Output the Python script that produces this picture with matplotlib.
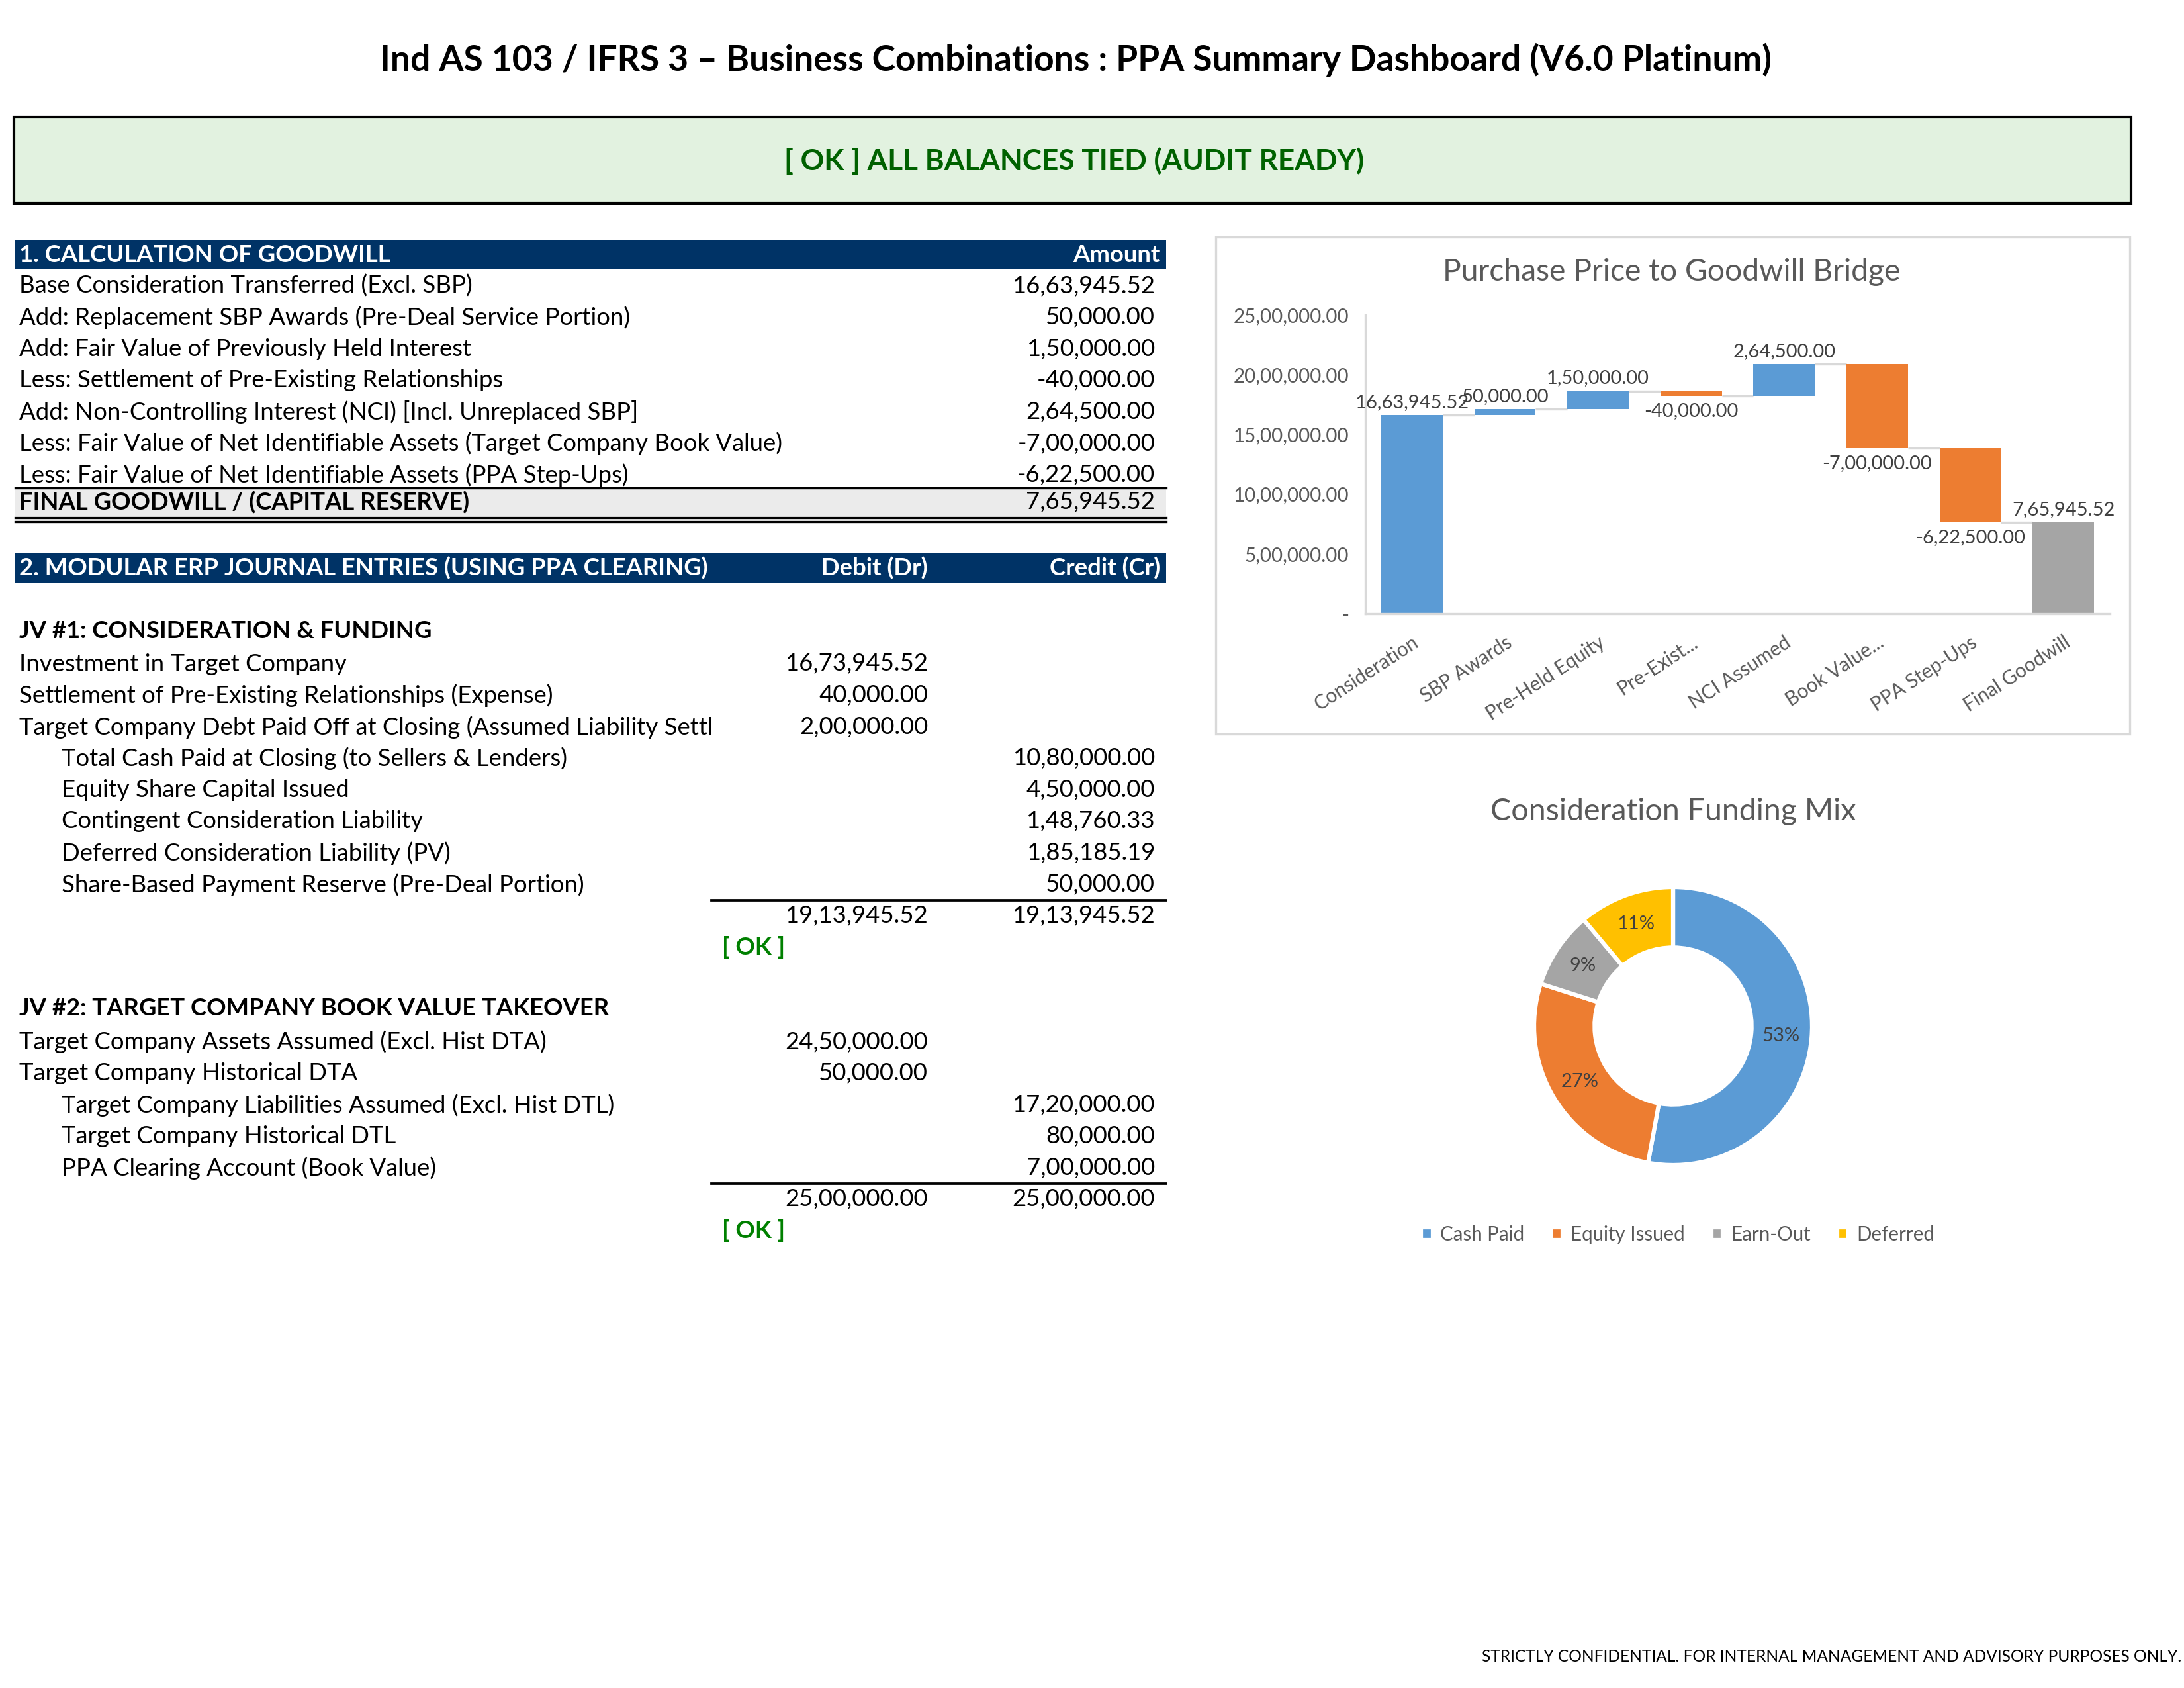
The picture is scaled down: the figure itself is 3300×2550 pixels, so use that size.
import matplotlib
matplotlib.use("Agg")
import matplotlib.pyplot as plt
from matplotlib.patches import Rectangle
import numpy as np

plt.rcParams['font.family'] = ['Lato', 'DejaVu Sans']

# ---- data ----
goodwill_labels = [
    "Base Consideration Transferred (Excl. SBP)",
    "Add: Replacement SBP Awards (Pre-Deal Service Portion)",
    "Add: Fair Value of Previously Held Interest",
    "Less: Settlement of Pre-Existing Relationships",
    "Add: Non-Controlling Interest (NCI) [Incl. Unreplaced SBP]",
    "Less: Fair Value of Net Identifiable Assets (Target Company Book Value)",
    "Less: Fair Value of Net Identifiable Assets (PPA Step-Ups)",
]
goodwill_values = [1663945.52, 50000.00, 150000.00, -40000.00, 264500.00, -700000.00, -622500.00]
final_goodwill = 765945.52

jv1_labels = [
    "Investment in Target Company",
    "Settlement of Pre-Existing Relationships (Expense)",
    "Target Company Debt Paid Off at Closing (Assumed Liability Settl",
    "Total Cash Paid at Closing (to Sellers & Lenders)",
    "Equity Share Capital Issued",
    "Contingent Consideration Liability",
    "Deferred Consideration Liability (PV)",
    "Share-Based Payment Reserve (Pre-Deal Portion)",
]
jv1_debit = [1673945.52, 40000.00, 200000.00, None, None, None, None, None]
jv1_credit = [None, None, None, 1080000.00, 450000.00, 148760.33, 185185.19, 50000.00]

jv2_labels = [
    "Target Company Assets Assumed (Excl. Hist DTA)",
    "Target Company Historical DTA",
    "Target Company Liabilities Assumed (Excl. Hist DTL)",
    "Target Company Historical DTL",
    "PPA Clearing Account (Book Value)",
]
jv2_debit = [2450000.00, 50000.00, None, None, None]
jv2_credit = [None, None, 1720000.00, 80000.00, 700000.00]

bridge_cats = ["Consideration", "SBP Awards", "Pre-Held Equity", "Pre-Exist...",
               "NCI Assumed", "Book Value...", "PPA Step-Ups", "Final Goodwill"]
bridge_steps = [1663945.52, 50000.00, 150000.00, -40000.00, 264500.00, -700000.00, -622500.00]
bridge_total = 765945.52

mix_names = ["Cash Paid", "Equity Issued", "Earn-Out", "Deferred"]
mix_values = [880000.00, 450000.00, 148760.33, 185185.19]

BLUE, ORANGE, GREY, GOLD = "#5B9BD5", "#ED7D31", "#A5A5A5", "#FFC000"
NAVY = "#003366"
TXT_GREY = "#595959"


def inr(v):
    neg = v < 0
    ip, dp = f"{abs(v):.2f}".split('.')
    if len(ip) > 3:
        head, tail = ip[:-3], ip[-3:]
        groups = []
        while len(head) > 2:
            groups.insert(0, head[-2:])
            head = head[:-2]
        if head:
            groups.insert(0, head)
        ip = ','.join(groups + [tail])
    return ('-' if neg else '') + ip + '.' + dp


W, H = 3300, 2550
fig = plt.figure(figsize=(11, 8.5), dpi=300)
page = fig.add_axes([0, 0, 1, 1])
page.set_xlim(0, W)
page.set_ylim(H, 0)
page.axis('off')

FS = 8.75
ROW = 47.6
# title
page.text(1625, 90, "Ind AS 103 / IFRS 3 \u2013 Business Combinations : PPA Summary Dashboard (V6.0 Platinum)",
          ha='center', va='center', fontsize=12.8, fontweight='bold')

# status banner
page.add_patch(Rectangle((21, 177), 3199, 130, facecolor="#E2F2E0", edgecolor='black', lw=1.0))
page.text(1623, 243, "[ OK ] ALL BALANCES TIED (AUDIT READY)", ha='center', va='center',
          fontsize=10.6, fontweight='bold', color="#006100")

L, R, RV, DV = 29, 1753, 1745, 1402

# section 1
page.add_patch(Rectangle((23, 362), 1739, 44, facecolor=NAVY, edgecolor='none'))
page.text(L, 385, "1. CALCULATION OF GOODWILL", ha='left', va='center', fontsize=FS,
          fontweight='bold', color='white')
page.text(R, 385, "Amount", ha='right', va='center', fontsize=FS, fontweight='bold', color='white')
y = 432
for lab, val in zip(goodwill_labels, goodwill_values):
    page.text(L, y, lab, ha='left', va='center', fontsize=FS)
    page.text(RV, y, inr(val), ha='right', va='center', fontsize=FS)
    y += ROW
page.add_patch(Rectangle((23, 738), 1739, 41, facecolor="#EBEBEB", edgecolor='none'))
page.plot([23, 1762], [737, 737], color='black', lw=0.8)
page.plot([23, 1762], [782, 782], color='black', lw=0.8)
page.plot([23, 1762], [788, 788], color='black', lw=0.8)
page.text(L, 759, "FINAL GOODWILL / (CAPITAL RESERVE)", ha='left', va='center', fontsize=FS, fontweight='bold')
page.text(RV, 759, inr(final_goodwill), ha='right', va='center', fontsize=FS)

# section 2
page.add_patch(Rectangle((23, 835), 1739, 45, facecolor=NAVY, edgecolor='none'))
page.text(L, 858, "2. MODULAR ERP JOURNAL ENTRIES (USING PPA CLEARING)", ha='left', va='center',
          fontsize=FS, fontweight='bold', color='white')
page.text(DV, 858, "Debit (Dr)", ha='right', va='center', fontsize=FS, fontweight='bold', color='white')
page.text(R, 858, "Credit (Cr)", ha='right', va='center', fontsize=FS, fontweight='bold', color='white')


def journal(y0, head, labels, debit, credit):
    page.text(L, y0, head, ha='left', va='center', fontsize=FS, fontweight='bold')
    y = y0 + 50
    for lab, d, c in zip(labels, debit, credit):
        x = L if c is None else 93
        page.text(x, y, lab, ha='left', va='center', fontsize=FS)
        if d is not None:
            page.text(DV, y, inr(d), ha='right', va='center', fontsize=FS)
        if c is not None:
            page.text(RV, y, inr(c), ha='right', va='center', fontsize=FS)
        y += ROW
    line_y = y - ROW + 24
    page.plot([1075, 1762], [line_y, line_y], color='black', lw=0.9)
    tot_d = sum(v for v in debit if v is not None)
    tot_c = sum(v for v in credit if v is not None)
    page.text(DV, line_y + 23, inr(tot_d), ha='right', va='center', fontsize=FS)
    page.text(RV, line_y + 23, inr(tot_c), ha='right', va='center', fontsize=FS)
    page.text(1139, line_y + 71, "[ OK ]", ha='center', va='center', fontsize=FS,
              fontweight='bold', color="#008000")


journal(953, "JV #1: CONSIDERATION & FUNDING", jv1_labels, jv1_debit, jv1_credit)
journal(1524, "JV #2: TARGET COMPANY BOOK VALUE TAKEOVER", jv2_labels, jv2_debit, jv2_credit)

# footer
page.text(3296, 2502, "STRICTLY CONFIDENTIAL. FOR INTERNAL MANAGEMENT AND ADVISORY PURPOSES ONLY.",
          ha='right', va='center', fontsize=5.9)

# ---- waterfall chart ----
page.add_patch(Rectangle((1837, 358), 1381, 751, facecolor='none', edgecolor="#D9D9D9", lw=0.8))
page.text(2526, 411, "Purchase Price to Goodwill Bridge", ha='center', va='center',
          fontsize=11.1, color=TXT_GREY)

wx0, wx1, wy0, wy1 = 2063, 3188, 476, 927
wax = fig.add_axes([wx0 / W, 1 - wy1 / H, (wx1 - wx0) / W, (wy1 - wy0) / H])
steps = bridge_steps + [bridge_total]
run = np.cumsum(bridge_steps)
prev = np.concatenate([[0], run[:-1]])
bottoms, heights, colors = [], [], []
for i, s in enumerate(steps):
    if i == 0:
        b, h, c = 0, s, BLUE
    elif i == len(steps) - 1:
        b, h, c = 0, s, GREY
    else:
        b, h, c = min(prev[i], run[i]), abs(s), (BLUE if s > 0 else ORANGE)
    bottoms.append(b)
    heights.append(h)
    colors.append(c)
xs = np.arange(len(steps))
bw = 0.66
wax.bar(xs, heights, bottom=bottoms, width=bw, color=colors, zorder=2)
levels = list(run)
for i in range(len(steps) - 1):
    wax.hlines(levels[i], xs[i] + bw / 2, xs[i + 1] - bw / 2, color="#D9D9D9", lw=0.8, zorder=1)
for i, s in enumerate(steps):
    if s >= 0:
        wax.annotate(inr(s), (xs[i], bottoms[i] + heights[i]), xytext=(0, 1.5), textcoords='offset points',
                     ha='center', va='bottom', fontsize=7.0, color="#404040")
    else:
        wax.annotate(inr(s), (xs[i], bottoms[i]), xytext=(0, -2.5), textcoords='offset points',
                     ha='center', va='top', fontsize=7.0, color="#404040")
wax.set_xlim(-0.5, len(steps) - 0.5)
wax.set_ylim(0, 2500000)
yt = np.arange(0, 2500001, 500000)
wax.set_yticks(yt)
wax.set_yticklabels(['-' if v == 0 else inr(v) for v in yt])
wax.set_xticks(xs)
wax.set_xticklabels(bridge_cats, rotation=33, ha='right', rotation_mode='anchor')
wax.tick_params(axis='both', length=0, labelsize=7.1, labelcolor=TXT_GREY)
wax.tick_params(axis='x', pad=7)
wax.tick_params(axis='y', pad=6)
for side in ['top', 'right']:
    wax.spines[side].set_visible(False)
for side in ['left', 'bottom']:
    wax.spines[side].set_color("#D9D9D9")
    wax.spines[side].set_linewidth(0.8)
wax.patch.set_alpha(0)

# ---- donut chart ----
page.text(2528, 1226, "Consideration Funding Mix", ha='center', va='center',
          fontsize=11.2, color=TXT_GREY)
cx, cy, r = 2528, 1550, 210
dax = fig.add_axes([(cx - r) / W, 1 - (cy + r) / H, 2 * r / W, 2 * r / H])
wedges, _, autotexts = dax.pie(mix_values, colors=[BLUE, ORANGE, GREY, GOLD], startangle=90,
                               counterclock=False, autopct='%.0f%%', pctdistance=0.78,
                               wedgeprops=dict(width=0.435, edgecolor='white', linewidth=1.5),
                               textprops=dict(fontsize=7.0, color="#404040"))
dax.set_xlim(-1, 1)
dax.set_ylim(-1, 1)
dax.set_aspect('equal')
dax.legend(wedges, mix_names, ncol=4, loc='center', bbox_to_anchor=(2535 / W, 1 - 1865 / H),
           bbox_transform=fig.transFigure, frameon=False, fontsize=7.1, labelcolor=TXT_GREY,
           handlelength=0.6, handleheight=0.6, handletextpad=0.4, columnspacing=1.35)

fig.savefig("out.png", dpi=300)
